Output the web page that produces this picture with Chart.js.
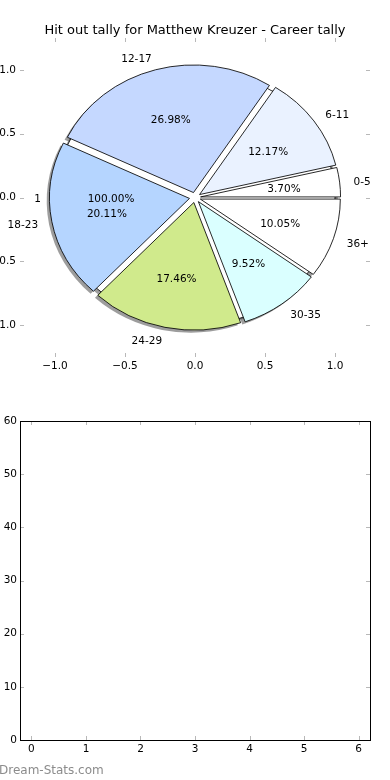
<!DOCTYPE html>
<html>
<head>
<meta charset="utf-8">
<script src="https://cdn.jsdelivr.net/npm/chart.js@4.4.1/dist/chart.umd.min.js"></script>
<style>
  html, body { margin: 0; padding: 0; background: #fff; }
  body { width: 390px; height: 780px; position: relative; overflow: hidden; }
  canvas { position: absolute; left: 0; }
  #pie { top: 0; }
  #empty { top: 390px; }
  #mark { position: absolute; left: -1px; top: 763px; font: 12px "DejaVu Sans"; line-height: 14px; color: #8c8c8c; }
</style>
</head>
<body>
<canvas id="pie" width="390" height="390"></canvas>
<canvas id="empty" width="390" height="390"></canvas>
<div id="mark">Dream-Stats.com</div>
<script>
// hit outs per age group (percentages in the picture are count / 189)
const ageGroups = ['0-5', '6-11', '12-17', '18-23', '24-29', '30-35', '36+'];
const hitOuts = [7, 23, 51, 38, 33, 18, 19];
const sliceColors = ['#ffffff', '#eaf2ff', '#c5d8ff', '#b5d5ff', '#d0ea8c', '#daffff', '#ffffff'];

// the plain pie drawn underneath (one slice, label "1")
const basePieLabels = ['1'];
const basePieValues = [1];

const pieTicks = [-1, -0.5, 0, 0.5, 1];
const emptyXTicks = [0, 1, 2, 3, 4, 5, 6];
const emptyYTicks = [0, 10, 20, 30, 40, 50, 60];

const EXPLODE = 0.04;
const SHADOW = 0.02;
const LABEL_R = 1.1;
const PCT_R = 0.6;

Chart.defaults.font.family = '"DejaVu Sans", sans-serif';
Chart.defaults.font.size = 10.5;
Chart.defaults.color = '#000';

// matplotlib draws counter-clockwise from 3 o'clock, chart.js clockwise -> reverse
const order = ageGroups.map((_, i) => ageGroups.length - 1 - i);

function units(chart) {
  const { x, y } = chart.scales;
  return {
    cx: x.getPixelForValue(0),
    cy: y.getPixelForValue(0),
    ux: x.getPixelForValue(1) - x.getPixelForValue(0),
    uy: y.getPixelForValue(0) - y.getPixelForValue(1)
  };
}

const innerTicks = {
  id: 'innerTicks',
  afterDraw(chart, args, opts) {
    const { ctx, chartArea: a, scales: { x, y } } = chart;
    ctx.save();
    ctx.strokeStyle = '#b8b8b8';
    ctx.lineWidth = 1;
    ctx.beginPath();
    x.ticks.forEach(t => {
      const p = Math.round(x.getPixelForValue(t.value)) + 0.5;
      ctx.moveTo(p, a.top); ctx.lineTo(p, a.top + 4);
      ctx.moveTo(p, a.bottom); ctx.lineTo(p, a.bottom - 4);
    });
    y.ticks.forEach(t => {
      const p = Math.round(y.getPixelForValue(t.value)) + 0.5;
      ctx.moveTo(a.left, p); ctx.lineTo(a.left + 4, p);
      ctx.moveTo(a.right, p); ctx.lineTo(a.right - 4, p);
    });
    ctx.stroke();
    if (opts.frame) {
      ctx.strokeStyle = '#000';
      ctx.strokeRect(Math.round(a.left) + 0.5, Math.round(a.top) + 0.5,
        Math.round(a.right - a.left), Math.round(a.bottom - a.top));
    }
    ctx.restore();
  }
};

const pieLook = {
  id: 'pieLook',
  afterDatasetsUpdate(chart) {
    const u = units(chart);
    chart.getDatasetMeta(0).data.forEach(arc => {
      const mid = (arc.startAngle + arc.endAngle) / 2;
      arc.outerRadius = u.uy;
      arc.x = u.cx + Math.cos(mid) * EXPLODE * u.uy;
      arc.y = u.cy + Math.sin(mid) * EXPLODE * u.uy;
    });
  },
  beforeDatasetsDraw(chart) {
    const { ctx } = chart;
    const u = units(chart);
    const R = u.uy;
    ctx.save();
    // axes are not equal, so the pie is an ellipse
    ctx.translate(u.cx, u.cy);
    ctx.scale(u.ux / u.uy, 1);
    ctx.translate(-u.cx, -u.cy);

    ctx.save();
    ctx.translate(-SHADOW * R, SHADOW * R);
    ctx.fillStyle = 'rgba(60,60,60,0.5)';
    ctx.beginPath();
    ctx.arc(u.cx, u.cy, R, 0, Math.PI * 2);
    ctx.fill();
    chart.getDatasetMeta(0).data.forEach(arc => {
      ctx.beginPath();
      ctx.moveTo(arc.x, arc.y);
      ctx.arc(arc.x, arc.y, R, arc.startAngle, arc.endAngle);
      ctx.closePath();
      ctx.fill();
    });
    ctx.restore();

    ctx.beginPath();
    ctx.arc(u.cx, u.cy, R, 0, Math.PI * 2);
    ctx.fillStyle = '#fff';
    ctx.fill();
    ctx.lineWidth = 0.8;
    ctx.strokeStyle = '#000';
    ctx.stroke();
  },
  afterDatasetsDraw(chart) {
    const { ctx } = chart;
    ctx.restore();
    const u = units(chart);
    const k = u.ux / u.uy;
    ctx.save();
    ctx.font = '10.5px "DejaVu Sans"';
    ctx.fillStyle = '#000';
    ctx.textBaseline = 'middle';

    const put = (text, x0, y0, mid, r, centered) => {
      const tx = x0 + Math.cos(mid) * r * u.ux;
      const ty = y0 + Math.sin(mid) * r * u.uy + 1.5;
      ctx.textAlign = centered ? 'center' : (tx > u.cx ? 'left' : 'right');
      ctx.fillText(text, tx, ty);
    };

    const baseTotal = basePieValues.reduce((s, v) => s + v, 0);
    basePieValues.forEach((v, i) => {
      const mid = Math.PI;
      put(basePieLabels[i], u.cx, u.cy, mid, LABEL_R, false);
      put((v / baseTotal * 100).toFixed(2) + '%', u.cx, u.cy, mid, PCT_R, true);
    });

    const ds = chart.data.datasets[0];
    const total = ds.data.reduce((s, v) => s + v, 0);
    chart.getDatasetMeta(0).data.forEach((arc, i) => {
      const mid = (arc.startAngle + arc.endAngle) / 2;
      const x0 = u.cx + (arc.x - u.cx) * k;
      put(chart.data.labels[i], x0, arc.y, mid, LABEL_R, false);
      put((ds.data[i] / total * 100).toFixed(2) + '%', x0, arc.y, mid, PCT_R, true);
    });
    ctx.restore();
  }
};

const fmtPie = v => (v < 0 ? '\u2212' : '') + Math.abs(v).toFixed(1);
const noGrid = { display: false, drawTicks: false, tickLength: 0 };

new Chart(document.getElementById('pie'), {
  type: 'pie',
  data: {
    labels: order.map(i => ageGroups[i]),
    datasets: [{
      data: order.map(i => hitOuts[i]),
      backgroundColor: order.map(i => sliceColors[i]),
      borderColor: '#000',
      borderWidth: 0.8,
      hoverOffset: 0
    }]
  },
  options: {
    responsive: false,
    animation: false,
    rotation: 90,
    layout: { padding: 0 },
    plugins: {
      legend: { display: false },
      tooltip: { enabled: false },
      title: {
        display: true,
        text: 'Hit out tally for Matthew Kreuzer - Career tally',
        color: '#000',
        font: { size: 13, weight: 'normal', lineHeight: 1 },
        padding: { top: 24, bottom: 1 }
      },
      innerTicks: { frame: false }
    },
    scales: {
      x: {
        type: 'linear', position: 'bottom', min: -1.25, max: 1.25,
        grid: noGrid, border: { display: false },
        afterBuildTicks: s => { s.ticks = pieTicks.map(v => ({ value: v })); },
        afterFit: s => { s.height = 33; },
        ticks: { autoSkip: false, maxRotation: 0, padding: 3, callback: fmtPie }
      },
      y: {
        type: 'linear', position: 'left', min: -1.25, max: 1.25,
        grid: noGrid, border: { display: false },
        afterBuildTicks: s => { s.ticks = pieTicks.map(v => ({ value: v })); },
        afterFit: s => { s.width = 20; },
        ticks: { autoSkip: false, padding: 4, callback: fmtPie }
      },
      y2: {
        type: 'linear', position: 'right', min: -1.25, max: 1.25,
        grid: noGrid, border: { display: false },
        afterFit: s => { s.width = 20; },
        ticks: { display: false }
      }
    }
  },
  plugins: [pieLook, innerTicks]
});

new Chart(document.getElementById('empty'), {
  type: 'scatter',
  data: { datasets: [{ data: [] }] },
  options: {
    responsive: false,
    animation: false,
    layout: { padding: { left: 0, right: 20, top: 31, bottom: 0 } },
    plugins: {
      legend: { display: false },
      tooltip: { enabled: false },
      innerTicks: { frame: true }
    },
    scales: {
      x: {
        type: 'linear', min: -0.21, max: 6.21,
        grid: noGrid, border: { display: false },
        afterBuildTicks: s => { s.ticks = emptyXTicks.map(v => ({ value: v })); },
        afterFit: s => { s.height = 40; },
        ticks: { autoSkip: false, maxRotation: 0, padding: 3, callback: v => String(v) }
      },
      y: {
        type: 'linear', min: 0, max: 60,
        grid: noGrid, border: { display: false },
        afterBuildTicks: s => { s.ticks = emptyYTicks.map(v => ({ value: v })); },
        afterFit: s => { s.width = 20; },
        ticks: { autoSkip: false, padding: 3, callback: v => String(v) }
      }
    }
  },
  plugins: [innerTicks]
});
</script>
</body>
</html>
